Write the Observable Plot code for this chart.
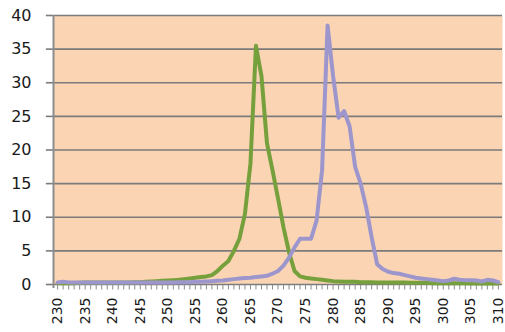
<!DOCTYPE html>
<html><head><meta charset="utf-8">
<script src="https://cdn.jsdelivr.net/npm/d3@7"></script>
<script src="https://cdn.jsdelivr.net/npm/@observablehq/plot@0.6"></script>
<style>body{margin:0;background:#fff}svg{display:block}</style>
</head><body><div id="chart"></div>
<script>
const wavelengths = [230,231,232,233,234,235,236,237,238,239,240,241,242,243,244,245,246,247,248,249,250,251,252,253,254,255,256,257,258,259,260,261,262,263,264,265,266,267,268,269,270,271,272,273,274,275,276,277,278,279,280,281,282,283,284,285,286,287,288,289,290,291,292,293,294,295,296,297,298,299,300,301,302,303,304,305,306,307,308,309,310];
const greenValues = [0.2,0.2,0.2,0.2,0.25,0.3,0.3,0.3,0.3,0.3,
  0.3,0.3,0.3,0.3,0.35,0.35,0.4,0.45,0.5,0.55,
  0.6,0.65,0.7,0.8,0.9,1.0,1.1,1.2,1.4,2.0,
  2.8,3.5,5.0,6.8,10.5,18,35.5,31,21,17,
  12.8,8.5,4.8,2.0,1.2,1.0,0.9,0.8,0.7,0.6,
  0.5,0.45,0.4,0.4,0.4,0.35,0.35,0.35,0.3,0.3,
  0.3,0.3,0.3,0.3,0.25,0.25,0.25,0.25,0.2,0.2,
  0.2,0.2,0.2,0.2,0.2,0.15,0.15,0.15,0.15,0.15,0.15];
const purpleValues = [0.3,0.4,0.3,0.3,0.3,0.3,0.3,0.3,0.3,0.3,
  0.3,0.3,0.3,0.3,0.3,0.3,0.3,0.3,0.3,0.3,
  0.3,0.3,0.35,0.35,0.35,0.4,0.4,0.45,0.5,0.55,
  0.6,0.7,0.8,0.9,0.95,1.0,1.1,1.2,1.3,1.6,
  2.0,2.8,4.0,5.5,6.8,6.8,6.8,9.5,17,38.5,
  31,24.8,25.8,23.5,17.5,15,11.5,7,3,2.3,
  1.9,1.7,1.6,1.4,1.2,1.0,0.9,0.8,0.7,0.6,
  0.5,0.6,0.85,0.7,0.65,0.65,0.6,0.45,0.7,0.6,0.35];
const yTicks = [0,5,10,15,20,25,30,35,40];
const xTickLabels = [230,235,240,245,250,255,260,265,270,275,280,285,290,295,300,305,310];

const green = wavelengths.map((w, i) => ({w, v: greenValues[i]}));
const purple = wavelengths.map((w, i) => ({w, v: purpleValues[i]}));
const X0 = 229.25, X1 = 310.75;

const chart = Plot.plot({
  width: 505, height: 332,
  marginLeft: 53, marginRight: 3, marginTop: 15, marginBottom: 48,
  style: {fontFamily: "DejaVu Sans", background: "#fff"},
  x: {domain: [X0, X1], axis: null},
  y: {domain: [0, 40], axis: null},
  marks: [
    Plot.frame({fill: "#FBD4B4", stroke: null}),
    Plot.ruleY(yTicks, {y: d => d, stroke: "#7b7b7b", strokeWidth: 1.6}),
    Plot.ruleY(yTicks, {y: d => d, x1: X0 - 1.3, x2: X0, stroke: "#7b7b7b", strokeWidth: 1.6}),
    Plot.link(wavelengths, {x1: d => d, x2: d => d, y1: 0, y2: -0.75, stroke: "#8a8a8a", strokeWidth: 1}),
    Plot.ruleX([X0], {x: d => d, y1: -0.6, y2: 40, stroke: "#8c8c8c", strokeWidth: 2}),
    Plot.line(green, {x: "w", y: "v", stroke: "#76a03c", strokeWidth: 4, strokeLinejoin: "round"}),
    Plot.line(purple, {x: "w", y: "v", stroke: "#9c96cc", strokeWidth: 4, strokeLinejoin: "round"}),
    Plot.text(yTicks, {x: X0, y: d => d, text: d => String(d), textAnchor: "end", dx: -22, fontSize: 16, fill: "#1a1a1a"}),
    Plot.text(xTickLabels, {x: d => d, y: 0, text: d => String(d), rotate: -90, textAnchor: "end", dy: 13, fontSize: 14, fill: "#1a1a1a"})
  ]
});
document.getElementById("chart").appendChild(chart);
</script>
</body></html>
